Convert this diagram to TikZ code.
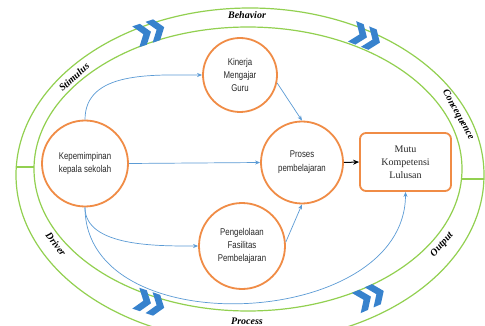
\documentclass[tikz,border=0pt]{standalone}
\usepackage{fontspec}
\setmainfont{Liberation Serif}
\newfontfamily\condfont[FakeStretch=0.8]{Liberation Sans}
\usetikzlibrary{arrows.meta}
\definecolor{ringgreen}{RGB}{146,208,80}
\definecolor{circorange}{RGB}{240,140,70}
\definecolor{linkblue}{RGB}{91,155,213}
\definecolor{chevblue}{RGB}{55,130,205}
\definecolor{txtgray}{RGB}{40,40,40}
\tikzset{
  circ/.style={circle, draw=circorange, line width=1.8pt, fill=white, align=center,
    text=txtgray, font=\condfont\fontsize{9.8}{13}\selectfont, inner sep=0pt},
  mutubox/.style={rectangle, rounded corners=6pt, draw=circorange, line width=1.8pt, fill=white,
    align=center, text=txtgray, font=\fontsize{10}{13}\selectfont,
    minimum width=91pt, minimum height=58pt},
  link/.style={draw=linkblue, line width=0.7pt, -{Stealth[length=5pt,width=4pt]}},
  ring/.style={draw=ringgreen, line width=1.2pt},
  lbl/.style={font=\bfseries\itshape\fontsize{10}{11}\selectfont, text=black, inner sep=0pt},
  chev/.pic={
    \fill[chevblue] (-15,-11) -- (-7,-11) -- (1,0) -- (-7,11) -- (-15,11) -- (-7,0) -- cycle;
    \fill[chevblue] (-1,-11) -- (7,-11) -- (15,0) -- (7,11) -- (-1,11) -- (7,0) -- cycle;
  }
}
\begin{document}
\begin{tikzpicture}[x=1pt,y=-1pt]
\useasboundingbox (0,0) rectangle (485,326);
\fill[white] (0,0) rectangle (485,326);
% rings
\draw[ring] (250,175) ellipse [x radius=234pt, y radius=167pt];
\draw[ring] (248,169) ellipse [x radius=214pt, y radius=142pt];
\draw[ring] (16.3,167) -- (34,167);
\draw[ring] (461.5,179) -- (484,179);
% chevrons
\pic[rotate=18.6] at (150,32) {chev};
\pic[rotate=-22] at (366,37) {chev};
\pic[rotate=-18.6] at (150,303) {chev};
\pic[rotate=23.7] at (370,297) {chev};
% ring labels
\node[lbl] (lb) at (247,15) {Behavior};
\node[lbl] (lp) at (247,321) {Process};
\node[lbl, rotate=42] (ls) at (74,77) {Stimulus};
\node[lbl, rotate=-61] (lc) at (458,115) {Concequence};
\node[lbl, rotate=-52] (ld) at (56,244) {Driver};
\node[lbl, rotate=48] (lo) at (442,245) {Output};
% nodes
\node[circ, minimum size=86pt] (kp) at (85,163.5) {Kepemimpinan\\kepala sekolah};
\node[circ, minimum size=74pt] (kg) at (240,75) {Kinerja\\Mengajar\\Guru};
\node[circ, minimum size=82pt] (pr) at (302,162.5) {Proses\\[1pt]pembelajaran};
\node[circ, minimum size=86pt] (pf) at (242,246) {Pengelolaan\\Fasilitas\\Pembelajaran};
\node[mutubox] (mu) at (405.5,162) {Mutu\\Kompetensi\\Lulusan};
% connectors
\draw[link] (kp.north) to[out=90,in=180] (kg.west);
\draw[link] (kg.-12) -- (pr.north);
\draw[link] (kp.east) -- (pr.west);
\draw[link] (kp.south) to[out=-90,in=180,looseness=0.85] (pf.west);
\draw[link] (kp.south) to[out=-90,in=-90,looseness=1.1] (mu.south);
\draw[link] (pf.5) -- (pr.south);
\draw[-{Stealth[length=6pt,width=5pt]}, line width=1pt, black] (pr.east) -- (mu.west);
\end{tikzpicture}
\end{document}
